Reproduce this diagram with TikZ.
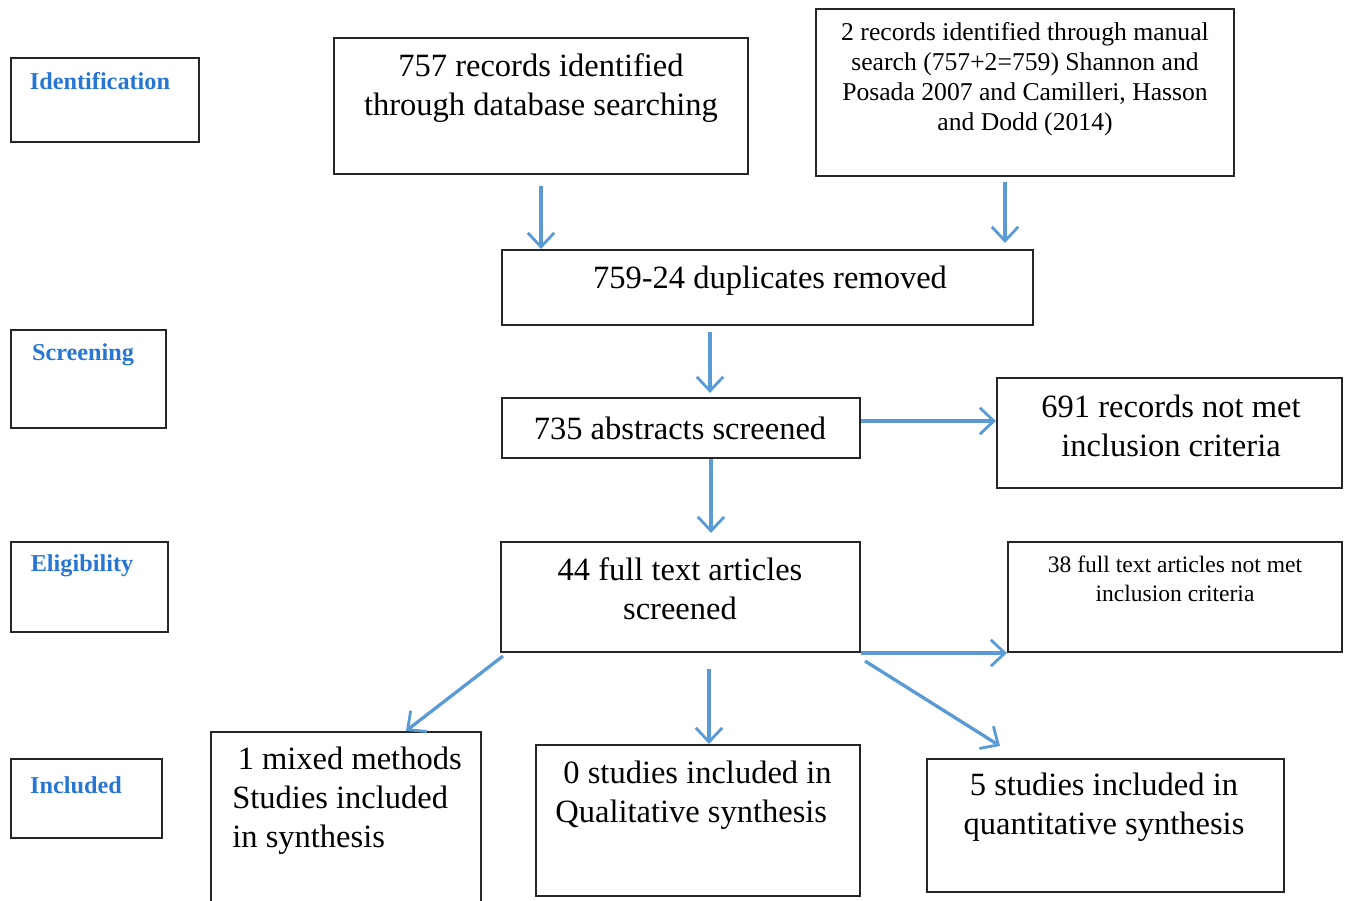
\documentclass[tikz,border=0pt]{standalone}
\usepackage{fontspec}
\setmainfont{Liberation Serif}
\usetikzlibrary{arrows.meta,fit,calc}
\definecolor{lblblue}{RGB}{40,118,212}
\definecolor{arrblue}{RGB}{91,155,213}
\tikzset{
  box/.style={draw=black!85, line width=1.2pt, inner sep=0pt},
  arr/.style={draw=arrblue, line width=1.9pt, -{Straight Barb[length=8pt,width=15pt,line width=1.6pt]}},
  lbl/.style={text=lblblue, font=\fontsize{13.8}{16}\selectfont\bfseries, inner sep=0pt},
  big/.style={font=\fontsize{18.5}{22.2}\selectfont, align=center, inner sep=0pt},
  mid/.style={font=\fontsize{14.6}{17}\selectfont, align=center, inner sep=0pt},
  sml/.style={font=\fontsize{13.4}{16.4}\selectfont, align=center, inner sep=0pt}
}
\begin{document}
\begin{tikzpicture}[x=0.02cm,y=-0.02cm]
\useasboundingbox (0,0) rectangle (1352,901);
\begin{scope}
\clip (0,0) rectangle (1352,901);
% stage labels
\node[box, fit={(11,58) (199,142)}] (L1) {};
\node[lbl] (L1t) at (100,81) {Identification};
\node[box, fit={(11,330) (166,428)}] (L2) {};
\node[lbl] (L2t) at (83,355) {Screening};
\node[box, fit={(11,542) (168,632)}] (L3) {};
\node[lbl] (L3t) at (82,566) {Eligibility};
\node[box, fit={(11,759) (162,838)}] (L4) {};
\node[lbl] (L4t) at (76,785) {Included};
% boxes
\node[box, fit={(334,38) (748,174)}] (A) {};
\node[big] (At) at (541,88) {757 records identified\\through database searching};
\node[box, fit={(816,9) (1234,176)}] (B) {};
\node[mid] (Bt) at (1025,79) {2 records identified through manual\\search (757+2=759) Shannon and\\Posada 2007 and Camilleri, Hasson\\and Dodd (2014)};
\node[box, fit={(502,250) (1033,325)}] (C) {};
\node[big] (Ct) at (770,281) {759-24 duplicates removed};
\node[box, fit={(502,398) (860,458)}] (D) {};
\node[big] (Dt) at (680,428) {735 abstracts screened};
\node[box, fit={(997,378) (1342,488)}] (E) {};
\node[big] (Et) at (1171,426) {691 records not met\\inclusion criteria};
\node[box, fit={(1008,542) (1342,652)}] (G) {};
\node[sml] (Gt) at (1175,579) {38 full text articles not met\\inclusion criteria};
\node[box, fit={(501,542) (860,652)}] (F) {};
\node[big] (Ft) at (680,589) {44 full text articles\\screened};
\node[box, fit={(211,732) (481,915)}] (H) {};
\node[big, align=left, anchor=north west] (Ht) at (232,747) {\,1 mixed methods\\Studies included\\in synthesis};
\node[box, fit={(536,745) (860,896)}] (I) {};
\node[big, align=left, anchor=north west] (It) at (555,761) {\ 0 studies included in\\Qualitative synthesis};
\node[box, fit={(927,759) (1284,892)}] (J) {};
\node[big] (Jt) at (1104,807) {5 studies included in\\quantitative synthesis};
\end{scope}
% arrows
\coordinate (a1) at (541,186);
\coordinate (b1) at (1005,182);
\draw[arr] (a1) -- (a1 |- C.north);
\draw[arr] (b1) -- ($(b1 |- C.north)+(0,-6)$);
\draw[arr] ($(710,0 |- C.south)+(0,6)$) -- ($(710,0 |- D.north)+(0,-4)$);
\draw[arr] (D.east |- 0,421) -- (E.west |- 0,421);
\draw[arr] (711,0 |- D.south) -- ($(711,0 |- F.north)+(0,-8)$);
\draw[arr] ($(F.south west)+(3,3)$) -- (406,0 |- H.north);
\draw[arr] ($(709,0 |- F.south)+(0,16)$) -- (709,0 |- I.north);
\draw[arr] (F.south east) -- (G.south west);
\draw[arr] ($(F.south east)+(4,8)$) -- ($(1000,0 |- J.north)+(0,-12)$);
\end{tikzpicture}
\end{document}
